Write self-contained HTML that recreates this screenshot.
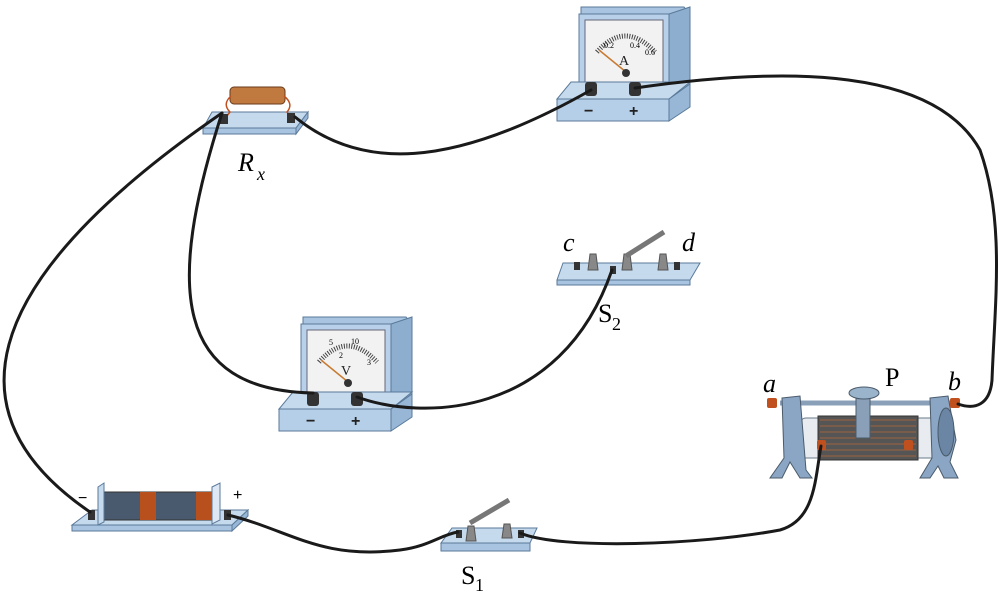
<!DOCTYPE html>
<html><head><meta charset="utf-8"><style>body{margin:0;background:#fff}svg{display:block}</style></head><body>
<svg width="1000" height="594" viewBox="0 0 1000 594" xmlns="http://www.w3.org/2000/svg" font-family="Liberation Serif, serif">
<defs>
<g id="meter">
  <polygon points="24,5 127,5 133,12 133,92 112,92 112,85 24,85" fill="#a8c4e0" stroke="#5a7a9a"/>
  <polygon points="112,12 133,5 133,92 112,100" fill="#8eaed0" stroke="#5a7a9a"/>
  <rect x="22" y="12" width="90" height="76" fill="#b8d0ea" stroke="#5a7a9a"/>
  <rect x="28" y="18" width="78" height="62" fill="#f2f2f2" stroke="#667"/>
  <path d="M40,50 Q68,18 98,50" fill="none" stroke="#444" stroke-width="5" stroke-dasharray="1 1.5"/>
  <line x1="42" y1="48" x2="69" y2="70" stroke="#c87a30" stroke-width="1.5"/>
  <circle cx="69" cy="71" r="4" fill="#333"/>
  <polygon points="14,80 133,80 112,97 0,97" fill="#c6daee" stroke="#5a7a9a"/>
  <rect x="0" y="97" width="112" height="22" fill="#b6cfe8" stroke="#5a7a9a"/>
  <polygon points="112,97 133,82 133,105 112,119" fill="#98b6d6" stroke="#5a7a9a"/>
  <rect x="28" y="80" width="12" height="14" rx="3" fill="#333"/>
  <rect x="72" y="80" width="12" height="14" rx="3" fill="#333"/>
  <text x="27" y="114" font-family="Liberation Sans" font-weight="bold" font-size="16" fill="#222">−</text>
  <text x="72" y="114" font-family="Liberation Sans" font-weight="bold" font-size="16" fill="#222">+</text>
</g>
</defs>

<g transform="translate(557,2)"><use href="#meter"/>
  <text x="62" y="63" font-size="14" fill="#222">A</text>
  <text x="47" y="46" font-size="8">0.2</text><text x="73" y="46" font-size="8">0.4</text><text x="88" y="53" font-size="8">0.6</text></g>
<g transform="translate(279,312)"><use href="#meter"/>
  <text x="62" y="63" font-size="14" fill="#222">V</text>
  <text x="60" y="46" font-size="8">2</text><text x="88" y="53" font-size="8">3</text><text x="50" y="33" font-size="8">5</text><text x="72" y="32" font-size="8">10</text></g>

<!-- Rx -->
<polygon points="212,112 308,112 296,128 203,128" fill="#c6daee" stroke="#5a7a9a"/>
<polygon points="203,128 296,128 296,134 203,134" fill="#a8c4e0" stroke="#5a7a9a"/>
<polygon points="296,128 308,112 308,118 296,134" fill="#98b6d6" stroke="#5a7a9a"/>
<rect x="230" y="87" width="55" height="17" rx="4" fill="#c07a40" stroke="#6a3a1a"/>
<path d="M231,96 Q222,104 230,112 Q222,122 225,122 M284,96 Q294,104 287,112 Q292,120 295,120" fill="none" stroke="#c05020" stroke-width="1.5"/>
<rect x="220" y="114" width="8" height="10" fill="#333"/><rect x="287" y="113" width="8" height="10" fill="#333"/>
<text x="238" y="171" font-size="26" font-style="italic">R</text><text x="257" y="180" font-size="18" font-style="italic">x</text>

<!-- S2 -->
<polygon points="563,263 700,263 690,280 557,280" fill="#c6daee" stroke="#5a7a9a"/>
<polygon points="557,280 690,280 690,285 557,285" fill="#a8c4e0" stroke="#5a7a9a"/>
<polygon points="590,254 596,254 598,270 588,270" fill="#888" stroke="#555"/>
<polygon points="624,254 630,254 632,270 622,270" fill="#888" stroke="#555"/>
<polygon points="660,254 666,254 668,270 658,270" fill="#888" stroke="#555"/>
<line x1="626" y1="256" x2="664" y2="232" stroke="#777" stroke-width="5"/>
<rect x="574" y="262" width="6" height="8" fill="#333"/><rect x="610" y="266" width="6" height="8" fill="#333"/><rect x="674" y="262" width="6" height="8" fill="#333"/>
<text x="563" y="251" font-size="26" font-style="italic">c</text>
<text x="682" y="251" font-size="26" font-style="italic">d</text>
<text x="598" y="322" font-size="26">S</text><text x="612" y="330" font-size="18">2</text>

<!-- S1 -->
<polygon points="452,528 537,528 530,543 441,543" fill="#c6daee" stroke="#5a7a9a"/>
<polygon points="441,543 530,543 530,551 441,551" fill="#a8c4e0" stroke="#5a7a9a"/>
<polygon points="468,526 474,526 476,541 466,541" fill="#888" stroke="#555"/>
<polygon points="504,524 510,524 512,538 502,538" fill="#888" stroke="#555"/>
<line x1="470" y1="523" x2="509" y2="500" stroke="#777" stroke-width="5"/>
<rect x="456" y="530" width="6" height="8" fill="#333"/><rect x="518" y="530" width="6" height="8" fill="#333"/>
<text x="461" y="584" font-size="26">S</text><text x="475" y="591" font-size="18">1</text>

<!-- battery -->
<polygon points="92,510 248,510 232,525 72,525" fill="#c6daee" stroke="#5a7a9a"/>
<polygon points="72,525 232,525 232,531 72,531" fill="#a8c4e0" stroke="#5a7a9a"/>
<polygon points="232,525 248,510 248,516 232,531" fill="#98b6d6" stroke="#5a7a9a"/>
<rect x="100" y="492" width="114" height="28" fill="#4a5a6e" stroke="#333"/>
<rect x="140" y="492" width="16" height="28" fill="#b8501e"/>
<rect x="196" y="492" width="16" height="28" fill="#b8501e"/>
<polygon points="98,487 104,483 104,522 98,525" fill="#c6daee" stroke="#5a7a9a"/>
<polygon points="212,487 220,483 220,520 212,524" fill="#dde8f4" stroke="#5a7a9a"/>
<rect x="88" y="510" width="7" height="10" fill="#333"/><rect x="224" y="510" width="7" height="10" fill="#333"/>
<text x="78" y="503" font-family="Liberation Sans" font-size="16">−</text>
<text x="233" y="500" font-family="Liberation Sans" font-size="16">+</text>

<!-- rheostat -->
<rect x="800" y="418" width="140" height="40" rx="6" fill="#e8ecf0" stroke="#6a7a8a"/>
<rect x="818" y="416" width="100" height="44" fill="#555" stroke="#333"/>
<g stroke="#b86a3a" stroke-width="0.8">
<line x1="820" y1="420" x2="916" y2="420"/><line x1="820" y1="426" x2="916" y2="426"/><line x1="820" y1="432" x2="916" y2="432"/><line x1="820" y1="438" x2="916" y2="438"/><line x1="820" y1="444" x2="916" y2="444"/><line x1="820" y1="450" x2="916" y2="450"/><line x1="820" y1="456" x2="916" y2="456"/></g>
<line x1="780" y1="403" x2="950" y2="403" stroke="#8aa0b8" stroke-width="5"/>
<path d="M782,398 L800,396 L806,470 L812,478 L800,478 L790,462 L782,478 L770,478 L784,458 Z" fill="#8aa6c4" stroke="#4a5a6a"/>
<path d="M930,398 L948,396 L956,440 L950,462 L958,478 L944,478 L938,466 L930,478 L920,478 L932,458 Z" fill="#8aa6c4" stroke="#4a5a6a"/>
<ellipse cx="946" cy="432" rx="8" ry="24" fill="#6a86a4" stroke="#4a5a6a"/>
<rect x="856" y="398" width="14" height="40" fill="#8aa0b8" stroke="#4a5a6a"/>
<ellipse cx="864" cy="393" rx="15" ry="6" fill="#9ab4cc" stroke="#4a5a6a"/>
<rect x="767" y="398" width="10" height="10" rx="2" fill="#c0501e"/>
<rect x="950" y="398" width="10" height="10" rx="2" fill="#c0501e"/>
<rect x="817" y="440" width="9" height="10" rx="2" fill="#c0501e"/>
<rect x="904" y="440" width="9" height="10" rx="2" fill="#c0501e"/>
<text x="763" y="392" font-size="26" font-style="italic">a</text>
<text x="885" y="386" font-size="26">P</text>
<text x="948" y="390" font-size="26" font-style="italic">b</text>

<!-- wires -->
<g fill="none" stroke="#1a1a1a" stroke-width="3" stroke-linecap="round">
<path d="M90,512 C-45,420 -35,290 222,113"/>
<path d="M222,113 C165,290 175,390 313,393"/>
<path d="M295,117 C360,170 450,170 591,90"/>
<path d="M635,88 C760,70 930,60 980,150 C1005,220 995,300 992,380 C990,405 975,410 958,404"/>
<path d="M357,397 C420,420 560,420 612,270"/>
<path d="M228,515 C290,530 320,560 400,550 C430,546 440,535 458,532"/>
<path d="M520,533 C560,550 700,545 780,530 C815,520 815,480 821,446"/>
</g>
</svg>
</body></html>
